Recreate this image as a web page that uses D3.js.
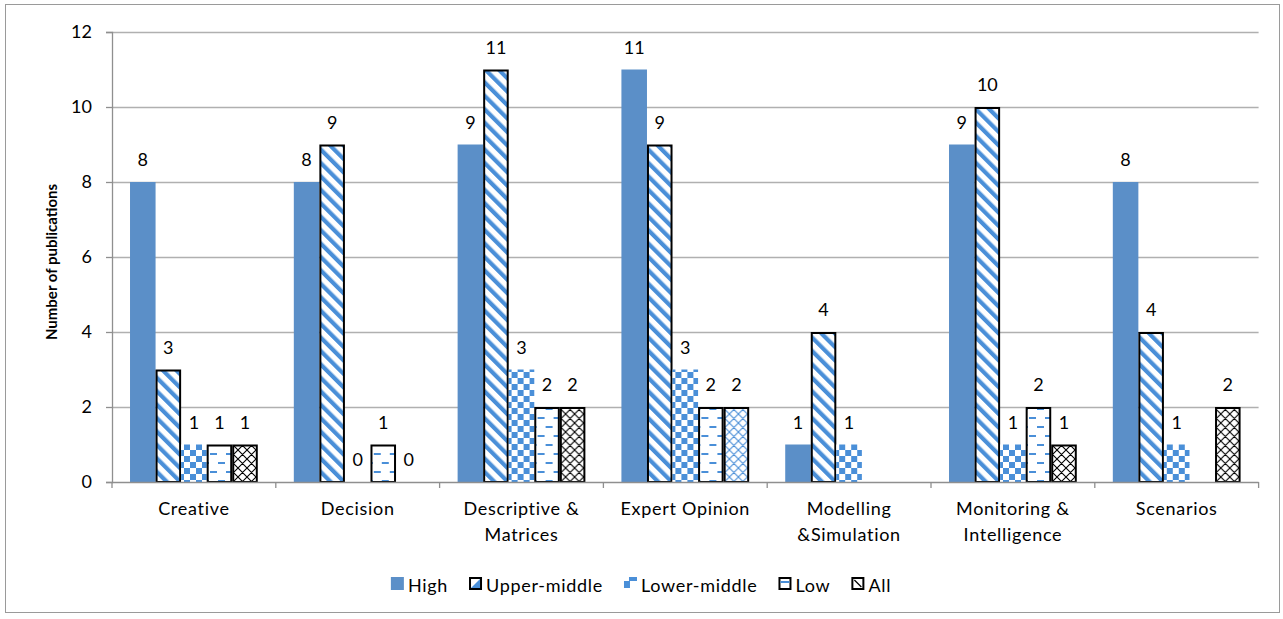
<!DOCTYPE html>
<html>
<head>
<meta charset="utf-8">
<script src="https://cdn.jsdelivr.net/npm/d3@7"></script>
<style>
  html, body { margin: 0; padding: 0; background: #fff; }
  svg { display: block; }
  text { font-family: Lato, "Open Sans", sans-serif; fill: #000; }
</style>
</head>
<body>
<svg id="chart" width="1283" height="619"></svg>
<script>
const categories = ["Creative", "Decision", "Descriptive & Matrices", "Expert Opinion",
                    "Modelling &Simulation", "Monitoring & Intelligence", "Scenarios"];
const categoryLines = [["Creative"], ["Decision"], ["Descriptive &", "Matrices"], ["Expert Opinion"],
                       ["Modelling", "&Simulation"], ["Monitoring &", "Intelligence"], ["Scenarios"]];
const seriesNames = ["High", "Upper-middle", "Lower-middle", "Low", "All"];
const high        = [8, 8, 9, 11, 1, 9, 8];
const upperMiddle = [3, 9, 11, 9, 4, 10, 4];
const lowerMiddle = [1, 0, 3, 3, 1, 1, 1];
const low         = [1, 1, 2, 2, null, 2, null];
const all         = [1, 0, 2, 2, null, 1, 2];
const yTicks = [0, 2, 4, 6, 8, 10, 12];

const seriesValues = [high, upperMiddle, lowerMiddle, low, all];

const plot = { left: 112, top: 32, width: 1146.6, height: 450 };
const svg = d3.select("#chart");

const BLUE = "#5b8fc8";
const PBLUE = "#4a8fd8";

// Patterns
const defs = svg.append("defs");
let p = defs.append("pattern").attr("id", "pUpper").attr("patternUnits", "userSpaceOnUse")
  .attr("width", 9.5).attr("height", 9.5).attr("patternTransform", "rotate(-45)");
p.append("rect").attr("width", 9.5).attr("height", 9.5).attr("fill", "#fff");
p.append("rect").attr("width", 4.2).attr("height", 9.5).attr("fill", PBLUE);

p = defs.append("pattern").attr("id", "pLowerMid").attr("patternUnits", "userSpaceOnUse")
  .attr("width", 12).attr("height", 12);
p.append("rect").attr("width", 12).attr("height", 12).attr("fill", "#fff");
p.append("rect").attr("width", 6).attr("height", 6).attr("fill", PBLUE);
p.append("rect").attr("x", 6).attr("y", 6).attr("width", 6).attr("height", 6).attr("fill", PBLUE);

p = defs.append("pattern").attr("id", "pLow").attr("patternUnits", "userSpaceOnUse")
  .attr("width", 16).attr("height", 18);
p.append("rect").attr("width", 16).attr("height", 18).attr("fill", "#fff");
p.append("rect").attr("x", 2).attr("y", 3).attr("width", 7).attr("height", 2).attr("fill", PBLUE);
p.append("rect").attr("x", 10).attr("y", 12).attr("width", 6).attr("height", 2).attr("fill", PBLUE);
p.append("rect").attr("x", 0).attr("y", 12).attr("width", 1).attr("height", 2).attr("fill", PBLUE);

function lattice(id, color) {
  const q = defs.append("pattern").attr("id", id).attr("patternUnits", "userSpaceOnUse")
    .attr("width", 9).attr("height", 9);
  q.append("rect").attr("width", 9).attr("height", 9).attr("fill", "#fff");
  q.append("path").attr("d", "M0,0L9,9M9,0L0,9M-1,8L1,10M8,-1L10,1").attr("stroke", color)
    .attr("stroke-width", 1.1).attr("fill", "none");
}
lattice("pAll", "#000");
lattice("pAllBlue", PBLUE);

const fills = [BLUE, "url(#pUpper)", "url(#pLowerMid)", "url(#pLow)", "url(#pAll)"];
const strokes = [null, "#000", null, "#000", "#000"];

// Frame
svg.append("rect").attr("x", 5.5).attr("y", 4.5).attr("width", 1274).attr("height", 608)
  .attr("fill", "#fff").attr("stroke", "#9a9a9a").attr("stroke-width", 1);

const x0 = d3.scaleBand().domain(categories).range([plot.left, plot.left + plot.width]);
const step = x0.step();
const x1 = d3.scaleBand().domain(seriesNames).range([step * 0.11, step * 0.89]);
const y = d3.scaleLinear().domain([0, 12]).range([plot.top + plot.height, plot.top]);

// Gridlines
svg.append("g").selectAll("line").data(yTicks.filter(t => t > 0)).join("line")
  .attr("x1", plot.left).attr("x2", plot.left + plot.width)
  .attr("y1", d => Math.round(y(d)) + 0.5).attr("y2", d => Math.round(y(d)) + 0.5)
  .attr("stroke", "#b0b0b0").attr("stroke-width", 1.3);

// Y axis
const yAxis = svg.append("g").attr("transform", `translate(${plot.left},0)`)
  .call(d3.axisLeft(y).tickValues(yTicks).tickSize(6).tickPadding(14));
yAxis.select(".domain").attr("stroke", "#8f8f8f").attr("stroke-width", 1.3);
yAxis.selectAll(".tick line").attr("stroke", "#8f8f8f").attr("stroke-width", 1.3);
yAxis.selectAll(".tick text").attr("font-size", 18).attr("font-family", "Lato, sans-serif").attr("fill", "#000");

// Bars
const groups = svg.append("g").selectAll("g").data(categories).join("g")
  .attr("transform", d => `translate(${x0(d)},0)`);

groups.each(function (cat, ci) {
  const g = d3.select(this);
  const pts = seriesNames.map((s, si) => ({ s, si, v: seriesValues[si][ci] }));
  g.selectAll("rect").data(pts.filter(d => d.v !== null && d.v > 0)).join("rect")
    .attr("x", d => x1(d.s) + (strokes[d.si] ? 1 : 0))
    .attr("width", d => x1.bandwidth() - (strokes[d.si] ? 2 : 0))
    .attr("y", d => y(d.v) + (strokes[d.si] ? 1 : 0))
    .attr("height", d => y(0) - y(d.v) - (strokes[d.si] ? 1 : 0))
    .attr("fill", d => (cat === "Expert Opinion" && d.s === "All") ? "url(#pAllBlue)" : fills[d.si])
    .attr("stroke", d => strokes[d.si] || "none")
    .attr("stroke-width", 2);
  g.selectAll("text.val").data(pts.filter(d => d.v !== null)).join("text")
    .attr("class", "val")
    .attr("x", d => x1(d.s) + x1.bandwidth() / 2)
    .attr("y", d => y(d.v) - 16)
    .attr("text-anchor", "middle")
    .attr("font-size", 18)
    .text(d => d.v);
});

// X axis line & ticks
svg.append("line").attr("x1", plot.left).attr("x2", plot.left + plot.width)
  .attr("y1", y(0) + 0.5).attr("y2", y(0) + 0.5).attr("stroke", "#8f8f8f").attr("stroke-width", 1.3);
const bounds = categories.map(c => x0(c)).concat([plot.left + plot.width]);
svg.append("g").selectAll("line").data(bounds).join("line")
  .attr("x1", d => d).attr("x2", d => d)
  .attr("y1", y(0)).attr("y2", y(0) + 6)
  .attr("stroke", "#8f8f8f").attr("stroke-width", 1.3);

// Category labels
const cl = svg.append("g").selectAll("text").data(categories).join("text")
  .attr("text-anchor", "middle").attr("font-size", 18).attr("letter-spacing", 0.7)
  .attr("x", d => x0(d) + step / 2).attr("y", 515);
cl.each(function (d, i) {
  d3.select(this).selectAll("tspan").data(categoryLines[i]).join("tspan")
    .attr("x", x0(d) + step / 2).attr("dy", (t, j) => j === 0 ? 0 : 26).text(t => t);
});

// Y title
svg.append("text").attr("transform", `translate(57,${plot.top + plot.height / 2 + 5}) rotate(-90)`)
  .attr("text-anchor", "middle").attr("font-size", 15).attr("font-weight", "bold")
  .text("Number of publications");

// Legend
const legend = svg.append("g");
const items = legend.selectAll("g").data(seriesNames).join("g");
items.append("text").attr("font-size", 18).attr("letter-spacing", 0.7).attr("y", 592).text(d => d);
const widths = [];
items.each(function () { widths.push(d3.select(this).select("text").node().getComputedTextLength()); });
const total = d3.sum(widths) + seriesNames.length * 17 + (seriesNames.length - 1) * 21;
let cx = 641 - total / 2;
items.each(function (d, i) {
  const g = d3.select(this);
  const sx = cx, sy = 577;
  g.select("text").attr("x", sx + 17);
  if (i === 0) {
    g.append("rect").attr("x", sx).attr("y", sy).attr("width", 13).attr("height", 13).attr("fill", BLUE);
  } else if (i === 1) {
    g.append("rect").attr("x", sx + 1).attr("y", sy + 1).attr("width", 11).attr("height", 11).attr("fill", "#fff").attr("stroke", "#000").attr("stroke-width", 2);
    g.append("path").attr("d", `M${sx + 11},${sy + 2}L${sx + 11},${sy + 11}L${sx + 2},${sy + 11}Z`).attr("fill", PBLUE);
  } else if (i === 2) {
    g.append("rect").attr("x", sx).attr("y", sy + 4).attr("width", 6).attr("height", 7).attr("fill", PBLUE);
    g.append("rect").attr("x", sx + 5).attr("y", sy).attr("width", 8).attr("height", 4).attr("fill", PBLUE);
  } else if (i === 3) {
    g.append("rect").attr("x", sx + 1).attr("y", sy + 1).attr("width", 11).attr("height", 11).attr("fill", "#fff").attr("stroke", "#000").attr("stroke-width", 2);
    g.append("rect").attr("x", sx + 2).attr("y", sy + 4).attr("width", 9).attr("height", 2).attr("fill", PBLUE);
  } else {
    g.append("rect").attr("x", sx + 1).attr("y", sy + 1).attr("width", 11).attr("height", 11).attr("fill", "#fff").attr("stroke", "#000").attr("stroke-width", 2);
    g.append("path").attr("d", `M${sx + 3},${sy + 3}L${sx + 10},${sy + 10}`).attr("stroke", "#000").attr("stroke-width", 1.2);
  }
  cx += 17 + widths[i] + 21;
});
</script>
</body>
</html>
